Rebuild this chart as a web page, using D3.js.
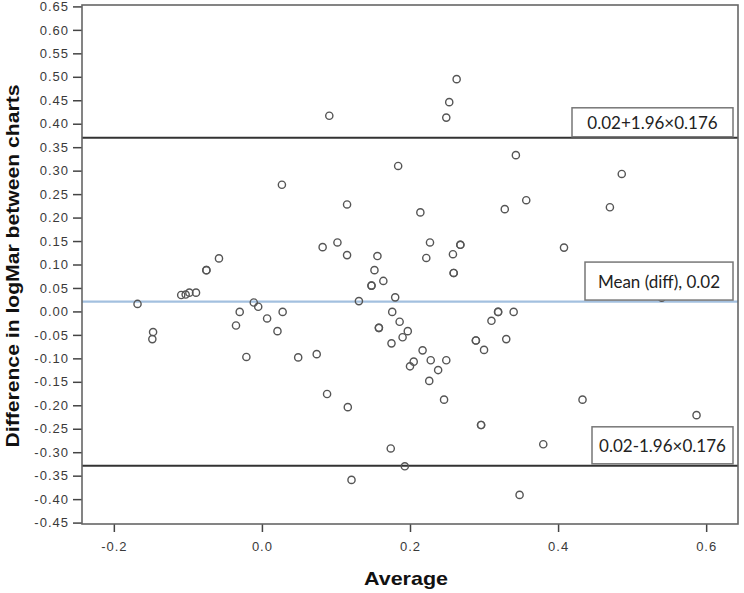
<!DOCTYPE html>
<html>
<head>
<meta charset="utf-8">
<script src="https://cdn.jsdelivr.net/npm/d3@7"></script>
<style>
  html, body { margin: 0; padding: 0; background: #fff; }
  svg { display: block; }
</style>
</head>
<body>
<svg id="chart" width="744" height="593"></svg>
<script>
// ---- Data ----
const averages = [
  0.091, 0.249, 0.253, 0.263, 0.027, 0.184, 0.343, 0.486, 0.115, 0.214,
  0.328, 0.357, 0.470, 0.082, 0.102, 0.115, 0.156, 0.227, 0.222, 0.268,
  0.268, 0.258, 0.259, 0.259, 0.408, 0.152, 0.164, 0.148, 0.148, 0.180,
  0.131, -0.011, -0.005, 0.540, -0.058, -0.075, -0.075, -0.089, -0.098, -0.103,
  -0.109, -0.168, -0.147, -0.148, -0.030, -0.035, 0.007, 0.028, 0.021, -0.021,
  0.049, 0.074, 0.088, 0.116, 0.176, 0.186, 0.197, 0.190, 0.175, 0.158,
  0.158, 0.217, 0.205, 0.200, 0.228, 0.249, 0.238, 0.226, 0.246, 0.174,
  0.193, 0.121, 0.289, 0.289, 0.300, 0.310, 0.319, 0.319, 0.340, 0.330,
  0.296, 0.296, 0.380, 0.348, 0.433, 0.587
];
const differences = [
  0.417, 0.413, 0.446, 0.495, 0.270, 0.310, 0.333, 0.293, 0.228, 0.211,
  0.218, 0.237, 0.222, 0.137, 0.147, 0.120, 0.118, 0.147, 0.114, 0.142,
  0.142, 0.122, 0.082, 0.082, 0.136, 0.088, 0.065, 0.055, 0.055, 0.030,
  0.022, 0.019, 0.010, 0.029, 0.113, 0.088, 0.088, 0.040, 0.040, 0.036,
  0.035, 0.016, -0.044, -0.059, -0.001, -0.030, -0.015, -0.001, -0.042, -0.097,
  -0.098, -0.091, -0.176, -0.204, -0.001, -0.022, -0.042, -0.055, -0.068, -0.035,
  -0.035, -0.083, -0.107, -0.117, -0.104, -0.104, -0.125, -0.148, -0.188, -0.292,
  -0.330, -0.359, -0.062, -0.062, -0.082, -0.020, -0.001, -0.001, -0.001, -0.059,
  -0.242, -0.242, -0.283, -0.391, -0.188, -0.221
];
const meanDiff = 0.021;
const upperLimit = 0.370;
const lowerLimit = -0.329;
const upperLabel = "0.02+1.96×0.176";
const meanLabel = "Mean (diff), 0.02";
const lowerLabel = "0.02-1.96×0.176";
const xTickValues = [-0.2, 0.0, 0.2, 0.4, 0.6];
const yTickValues = [0.65, 0.60, 0.55, 0.50, 0.45, 0.40, 0.35, 0.30, 0.25, 0.20, 0.15, 0.10, 0.05,
                     0.00, -0.05, -0.10, -0.15, -0.20, -0.25, -0.30, -0.35, -0.40, -0.45];
const xTitle = "Average";
const yTitle = "Difference in logMar between charts";

// ---- Layout ----
const W = 744, H = 593;
const margin = { left: 82, right: 6, top: 5, bottom: 69 };
const svg = d3.select("#chart");
const x = d3.scaleLinear().domain([-0.243, 0.643]).range([margin.left, W - margin.right]);
const y = d3.scaleLinear().domain([-0.453, 0.653]).range([H - margin.bottom, margin.top]);

const tickFont = "'Liberation Sans', Arial, sans-serif";

// Y axis
const yAxis = d3.axisLeft(y).tickValues(yTickValues).tickSize(9).tickPadding(4)
  .tickFormat(d => d3.format(".2f")(d).replace("−", "-"));
const gy = svg.append("g").attr("transform", `translate(${margin.left},0)`).call(yAxis);
gy.select(".domain").remove();
gy.selectAll(".tick line").attr("stroke", "#444").attr("stroke-width", 1.5);
gy.selectAll(".tick text").attr("fill", "#3a3a3a").style("font-family", tickFont)
  .style("font-size", "13px").style("letter-spacing", "1px");

// X axis
const xAxis = d3.axisBottom(x).tickValues(xTickValues).tickSize(8).tickPadding(10)
  .tickFormat(d => d3.format(".1f")(d).replace("−", "-"));
const gx = svg.append("g").attr("transform", `translate(0,${H - margin.bottom})`).call(xAxis);
gx.select(".domain").remove();
gx.selectAll(".tick line").attr("stroke", "#444").attr("stroke-width", 1.5);
gx.selectAll(".tick text").attr("fill", "#3a3a3a").style("font-family", tickFont)
  .style("font-size", "13px").style("letter-spacing", "1px");

// Reference lines
const lineG = svg.append("g");
lineG.append("line").attr("x1", x.range()[0]).attr("x2", x.range()[1])
  .attr("y1", y(meanDiff)).attr("y2", y(meanDiff))
  .attr("stroke", "#a3c0df").attr("stroke-width", 2.2);
[upperLimit, lowerLimit].forEach(v => {
  lineG.append("line").attr("x1", x.range()[0]).attr("x2", x.range()[1])
    .attr("y1", y(v)).attr("y2", y(v))
    .attr("stroke", "#333").attr("stroke-width", 2);
});

// Points
svg.append("g").selectAll("circle")
  .data(averages.map((a, i) => [a, differences[i]]))
  .join("circle")
  .attr("cx", d => x(d[0])).attr("cy", d => y(d[1])).attr("r", 3.6)
  .attr("fill", "none").attr("stroke", "#555").attr("stroke-width", 1.4);

// Label boxes
function labelBox(text, lineVal, left, height, gap) {
  const right = x.range()[1] - 5;
  const bottom = y(lineVal) - gap;
  const g = svg.append("g");
  g.append("rect").attr("x", left).attr("y", bottom - height)
    .attr("width", right - left).attr("height", height)
    .attr("fill", "#fff").attr("stroke", "#777").attr("stroke-width", 1.5);
  g.append("text").attr("x", (left + right) / 2).attr("y", bottom - height / 2)
    .attr("text-anchor", "middle").attr("dominant-baseline", "central")
    .style("font-family", "Lato, 'Open Sans', sans-serif").style("font-size", "17px")
    .attr("fill", "#222").text(text);
}
labelBox(upperLabel, upperLimit, 572, 29, 1);
labelBox(meanLabel, meanDiff, 585, 38, 1.5);
labelBox(lowerLabel, lowerLimit, 592, 37, 2);

// Frame
svg.append("rect").attr("x", margin.left).attr("y", margin.top)
  .attr("width", W - margin.left - margin.right).attr("height", H - margin.top - margin.bottom)
  .attr("fill", "none").attr("stroke", "#666").attr("stroke-width", 1.6);

// Titles
const titleFont = "'Liberation Sans', Arial, sans-serif";
svg.append("text").attr("x", 406).attr("y", 585).attr("text-anchor", "middle")
  .style("font-family", titleFont).style("font-weight", "bold").style("font-size", "19px")
  .attr("textLength", 84).attr("lengthAdjust", "spacingAndGlyphs")
  .attr("fill", "#111").text(xTitle);
svg.append("text").attr("transform", `translate(19,266) rotate(-90)`).attr("text-anchor", "middle")
  .style("font-family", titleFont).style("font-weight", "bold").style("font-size", "19px")
  .attr("textLength", 363).attr("lengthAdjust", "spacingAndGlyphs")
  .attr("fill", "#111").text(yTitle);
</script>
</body>
</html>
